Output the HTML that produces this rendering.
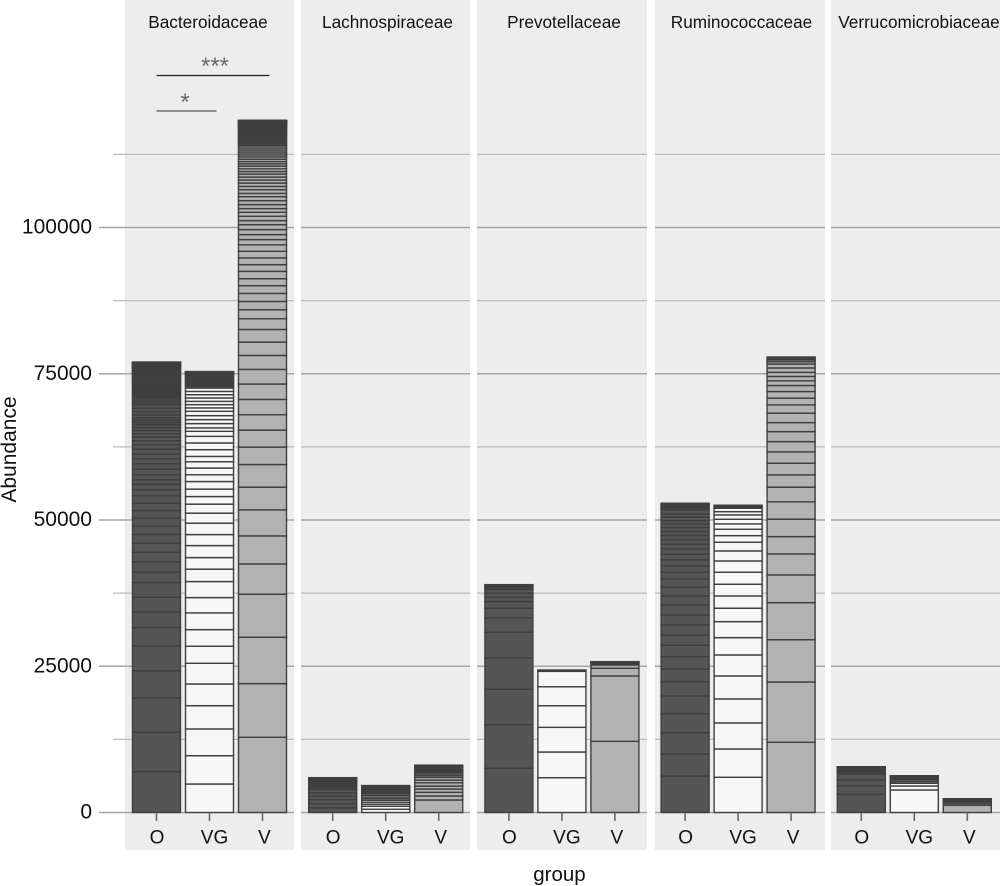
<!DOCTYPE html>
<html lang="en">
<head>
<meta charset="utf-8">
<title>Abundance by family and group</title>
<style>
html,body{margin:0;padding:0;background:#fff;width:1000px;height:886px;overflow:hidden}
svg{display:block}
text{font-family:"Liberation Sans",Arial,sans-serif;fill:#111}
</style>
</head>
<body>
<svg id="chart" width="1000" height="886" viewBox="0 0 1000 886" xmlns="http://www.w3.org/2000/svg"></svg>
<script>
const facets = ["Bacteroidaceae", "Lachnospiraceae", "Prevotellaceae", "Ruminococcaceae", "Verrucomicrobiaceae"];
const groups = ["O", "VG", "V"];
const majorTicks = [0, 25000, 50000, 75000, 100000];
const minorTicks = [12500, 37500, 62500, 87500, 112500];

const bacteroidaceaeO = [6980,6740,5870,4620,4280,3130,2680,2510,2500,1780,1760,1620,1570,1500,1450,1370,1250,1270,1250,1030,940,770,855,970,910,860,800,860,740,680,630,560,560,510,460,390,380,430,510,560,580,560,340,340,350,260,250,240,240,230,230,220,220,210,210,200,200,190,190,180,180,170,170,160,160,150,150,150,140,140,130,130,120,120,110,110,100,100,90,90,80,80,70,70,60];
const bacteroidaceaeVG = [4870,4840,4570,3980,3710,3540,2910,2840,2860,2620,2740,2120,1980,2050,1880,1950,1710,1540,1300,1270,1300,1150,1150,1080,910,1150,1150,1130,860,580,740,680,680,740,580,560,560,580,560,560,580,260,240,230,220,200,190,180,170,160,150,140,130,120,100,90,80,70,50,40];
const bacteroidaceaeV = [12860,9170,7930,7350,5180,4790,4450,3880,3870,2980,2910,2620,2620,2630,2500,2390,2290,2150,1830,1540,1420,1370,1320,1200,1250,1150,1150,1130,1110,890,860,850,850,690,740,680,630,680,680,680,560,630,560,580,510,510,510,440,460,460,390,390,410,390,340,340,340,340,340,290,250,240,230,220,210,200,190,180,170,160,150,150,140,130,130,120,120,110,110,100,100,90,90,80,80,70,70,60,60,50,50,40,40,30,30,20];

const lachnospiraceaeO = [800,730,680,570,570,560,300,280,260,230,210,190,170,150,120,90,50];
const lachnospiraceaeVG = [550,530,340,340,340,290,270,280,260,240,220,200,180,160,130,100,80,60,40];
const lachnospiraceaeV = [2140,680,630,560,510,560,460,460,310,290,260,230,210,190,170,150,120,90,80];

const prevotellaceaeO = [7560,7460,6050,5350,4390,2450,1660,1130,750,680,680,310,210,170,100];
const prevotellaceaeVG = [5950,4390,4220,3690,3250,2630,130,100];
const prevotellaceaeV = [12170,11170,1320,560,200,160,120,90];

const ruminococcaceaeO = [6240,3760,3640,3250,3030,2450,2170,2100,1950,1710,1760,1710,1710,1540,1490,1420,1150,1080,1030,970,910,800,740,740,680,680,630,560,580,560,680,280,240,210,170,140,110];
const ruminococcaceaeVG = [6020,4840,4450,4100,3930,3590,2960,2740,2290,2100,2000,2050,1930,1710,1490,1130,1090,910,800,740,560,580,240,170,110];
const ruminococcaceaeV = [12000,10310,7230,6330,4740,3590,2960,2980,2960,2510,2100,2000,1930,1760,1710,1540,1610,1420,1150,1130,1030,800,750,700,750,680,400,300,230,170,100];

const verrucomicrobiaceaeO = [3110,1470,970,1030,300,260,220,180,140,90,60];
const verrucomicrobiaceaeVG = [3850,680,460,270,280,240,200,160,100,50];
const verrucomicrobiaceaeV = [1230,300,260,220,170,110,70];

const bacteroidaceaeStacks = [bacteroidaceaeO, bacteroidaceaeVG, bacteroidaceaeV];
const lachnospiraceaeStacks = [lachnospiraceaeO, lachnospiraceaeVG, lachnospiraceaeV];
const prevotellaceaeStacks = [prevotellaceaeO, prevotellaceaeVG, prevotellaceaeV];
const ruminococcaceaeStacks = [ruminococcaceaeO, ruminococcaceaeVG, ruminococcaceaeV];
const verrucomicrobiaceaeStacks = [verrucomicrobiaceaeO, verrucomicrobiaceaeVG, verrucomicrobiaceaeV];
const allStacks = [bacteroidaceaeStacks, lachnospiraceaeStacks, prevotellaceaeStacks, ruminococcaceaeStacks, verrucomicrobiaceaeStacks];

const groupFills = {O: "#555555", VG: "#f7f7f7", V: "#b2b2b2"};
const labelShift = {O: 0.5, VG: 5, V: 2};
const panelStarts = [125, 301, 477, 655, 831];
const panelEnds = [294, 470, 647, 825, 1000];
const titleCenters = [208, 387.5, 564, 741.5, 919];

const NS = "http://www.w3.org/2000/svg";
const svg = document.getElementById("chart");

function yScale(v) { return 812.5 - v * 0.00585; }
function xCenter(i, g) { return 156.5 + i * 176.2 + g * 53; }

function node(tag, attrs, parent) {
  const el = document.createElementNS(NS, tag);
  for (const k in attrs) el.setAttribute(k, attrs[k]);
  (parent || svg).appendChild(el);
  return el;
}

/* panels */
facets.forEach(function (f, i) {
  const p = node("rect", {x: panelStarts[i], y: 0, width: panelEnds[i] - panelStarts[i], height: 850, fill: "#ededed"});
  
  
});

/* gridlines + y ticks */
minorTicks.forEach(function (t) {
  const l = node("line", {x1: 113, x2: 1000, y1: yScale(t), y2: yScale(t), stroke: "#bcbcbc", "stroke-width": 1.2});
  
  
});
majorTicks.forEach(function (t) {
  const l = node("line", {x1: 99, x2: 1000, y1: yScale(t), y2: yScale(t), stroke: "#a6a6a6", "stroke-width": 1.4});
  
  
  const lab = node("text", {x: 92, y: yScale(t) + 6, "text-anchor": "end", "font-size": 21});
  lab.textContent = String(t);
  
  
});

/* white gaps between panels */
for (let i = 0; i < facets.length - 1; i++) {
  const gap = node("rect", {x: panelEnds[i], y: 0, width: panelStarts[i + 1] - panelEnds[i], height: 850, fill: "#ffffff"});
  
  
}

/* titles, bars, ticks */
facets.forEach(function (f, i) {
  const title = node("text", {x: titleCenters[i], y: 28, "text-anchor": "middle", "font-size": 17.2});
  title.textContent = f;
  
  

  groups.forEach(function (g, j) {
    const cx = xCenter(i, j);
    const stack = node("g", {});
    
    
    let cum = 0;
    allStacks[i][j].forEach(function (v) {
      const y1 = yScale(cum + v);
      const y0 = yScale(cum);
      const r = node("rect", {x: cx - 24, y: y1, width: 48, height: y0 - y1, fill: groupFills[g], stroke: "#3f3f3f", "stroke-width": 1.4}, stack);
      
      
      cum += v;
    });

    const tick = node("line", {x1: cx, x2: cx, y1: 813.5, y2: 821, stroke: "#666666", "stroke-width": 1.6});
    
    

    const lab = node("text", {x: cx + labelShift[g], y: 843.5, "text-anchor": "middle", "font-size": 19});
    lab.textContent = g;
    
    
  });
});

/* significance annotations */
const sig3 = node("line", {x1: 156.5, x2: 269.5, y1: 75.5, y2: 75.5, stroke: "#222222", "stroke-width": 1.3});


const sig1 = node("line", {x1: 156.5, x2: 216.5, y1: 111, y2: 111, stroke: "#555555", "stroke-width": 1.2});


const star3 = node("text", {x: 215, y: 74, "text-anchor": "middle", "font-size": 24, style: "fill:#6a6a6a"});
star3.textContent = "***";


const star1 = node("text", {x: 185, y: 110, "text-anchor": "middle", "font-size": 24, style: "fill:#6a6a6a"});
star1.textContent = "*";



/* axis titles */
const xTitle = node("text", {x: 559.5, y: 881, "text-anchor": "middle", "font-size": 20.5});
xTitle.textContent = "group";


const yTitle = node("text", {x: 0, y: 0, "text-anchor": "middle", "font-size": 21, transform: "translate(16 449.5) rotate(-90)"});
yTitle.textContent = "Abundance";


</script>
</body>
</html>
